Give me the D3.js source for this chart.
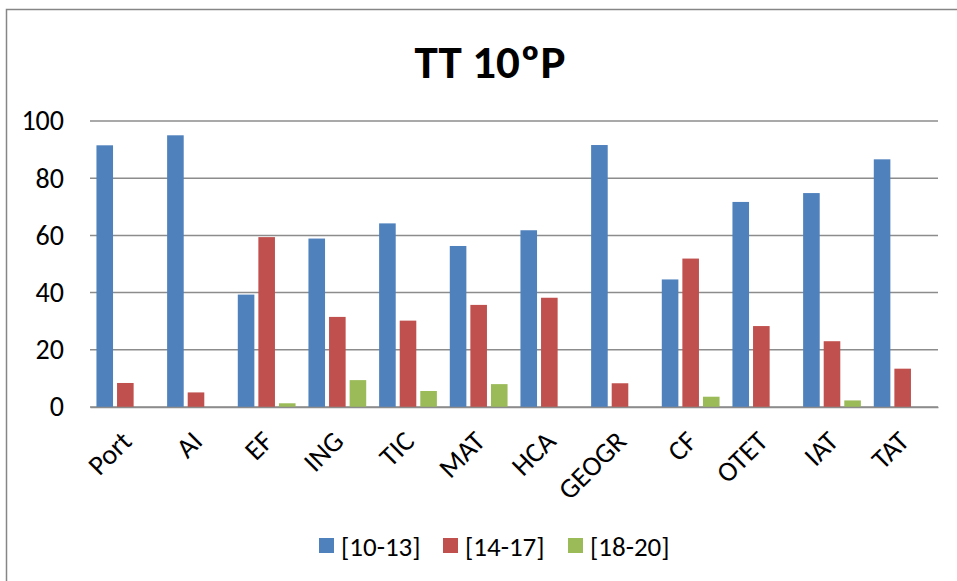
<!DOCTYPE html>
<html>
<head>
<meta charset="utf-8">
<script src="https://cdn.jsdelivr.net/npm/d3@7"></script>
<style>
  body { margin: 0; background: #fff; }
  svg { display: block; font-family: Carlito, Calibri, Lato, sans-serif; }
</style>
</head>
<body>
<div id="chart"></div>
<script>
// chart data
const subjects = ['Port', 'AI', 'EF', 'ING', 'TIC', 'MAT', 'HCA', 'GEOGR', 'CF', 'OTET', 'IAT', 'TAT'];
const seriesNames = ['[10-13]', '[14-17]', '[18-20]'];
const grade10to13 = [91.5, 95, 39.3, 58.9, 64.2, 56.3, 61.8, 91.6, 44.6, 71.7, 74.8, 86.6];
const grade14to17 = [8.4, 5.1, 59.4, 31.5, 30.2, 35.7, 38.2, 8.3, 51.9, 28.3, 23, 13.4];
const grade18to20 = [0, 0, 1.3, 9.4, 5.6, 8, 0, 0, 3.6, 0, 2.3, 0];
const yTicks = [0, 20, 40, 60, 80, 100];
const colors = ['#4F81BD', '#C0504D', '#9BBB59'];

function drawChart() {
    const W = 957, H = 581;
    const margin = { top: 121, right: 19, bottom: 174, left: 90 };
    const width = W - margin.left - margin.right;
    const height = H - margin.top - margin.bottom;
    const font = 'Carlito, Calibri, Lato, sans-serif';

    const svg = d3.select('#chart')
        .append('svg')
        .attr('width', W)
        .attr('height', H);

    // outer chart border
    svg.append('rect')
        .attr('x', 6.5)
        .attr('y', 9.5)
        .attr('width', W + 10)
        .attr('height', H + 10)
        .style('fill', 'none')
        .style('stroke', '#868686')
        .style('stroke-width', 1.5);

    svg.append('text')
        .attr('x', 490)
        .attr('y', 78)
        .attr('text-anchor', 'middle')
        .style('font-size', '47px')
        .style('font-weight', 'bold')
        .text('TT 10ºP');

    const g = svg.append('g')
        .attr('transform', `translate(${margin.left},${margin.top})`);

    const x0 = d3.scaleBand()
        .domain(subjects)
        .range([0, width])
        .paddingInner(0.126)
        .paddingOuter(0.063);

    const x1 = d3.scaleBand()
        .domain(seriesNames)
        .range([0, x0.bandwidth()]);

    const y = d3.scaleLinear()
        .domain([0, 100])
        .range([height, 0]);

    // gridlines
    g.append('g')
        .selectAll('line')
        .data(yTicks)
        .enter()
        .append('line')
        .attr('x1', 0)
        .attr('x2', width)
        .attr('y1', d => y(d))
        .attr('y2', d => y(d))
        .style('stroke', '#8c8c8c')
        .style('stroke-width', 1.5);

    const yAxis = g.append('g')
        .call(d3.axisLeft(y).tickValues(yTicks).tickSize(0).tickPadding(26));
    yAxis.select('.domain').remove();
    yAxis.selectAll('text')
        .style('font-family', font)
        .style('font-size', '28px')
        .style('fill', '#000');

    const rows = subjects.map((s, i) => ({
        subject: s,
        values: [grade10to13[i], grade14to17[i], grade18to20[i]]
    }));

    const groups = g.selectAll('.group')
        .data(rows)
        .enter()
        .append('g')
        .attr('class', 'group')
        .attr('transform', d => `translate(${x0(d.subject)},0)`);

    groups.selectAll('rect')
        .data(d => d.values.map((v, k) => ({ key: seriesNames[k], value: v, k })))
        .enter()
        .append('rect')
        .attr('x', d => x1(d.key) + 2)
        .attr('y', d => y(d.value))
        .attr('width', x1.bandwidth() - 4)
        .attr('height', d => height - y(d.value))
        .style('fill', d => colors[d.k]);

    // x axis line and labels
    const xAxis = g.append('g')
        .attr('transform', `translate(0,${height})`)
        .call(d3.axisBottom(x0).tickSize(0).tickPadding(0));
    xAxis.select('.domain')
        .style('stroke', '#8c8c8c')
        .style('stroke-width', 1.5);
    xAxis.selectAll('text')
        .style('font-family', font)
        .style('font-size', '28px')
        .style('fill', '#000')
        .attr('text-anchor', 'end')
        .attr('dy', 0)
        .attr('transform', 'translate(8,36) rotate(-45)');

    // legend
    const legendX = [319, 443, 568];
    const legend = svg.append('g');
    seriesNames.forEach((name, k) => {
        legend.append('rect')
            .attr('x', legendX[k])
            .attr('y', 538)
            .attr('width', 15)
            .attr('height', 15)
            .style('fill', colors[k]);
        legend.append('text')
            .attr('x', legendX[k] + 22)
            .attr('y', 556)
            .style('font-size', '27px')
            .text(name);
    });
}

drawChart();
</script>
</body>
</html>
